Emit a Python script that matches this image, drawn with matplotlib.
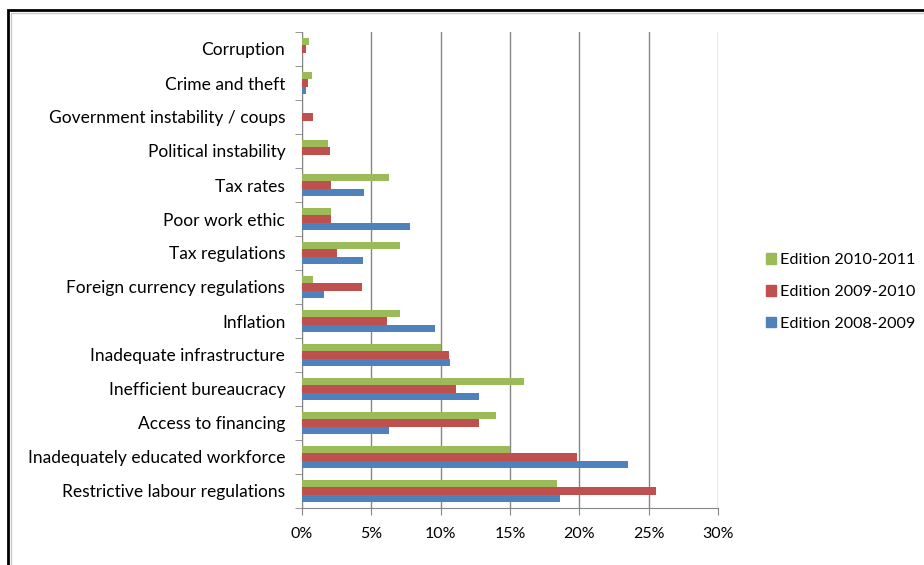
import matplotlib.pyplot as plt
import numpy as np
from matplotlib.patches import Patch, Rectangle

plt.rcParams['font.family'] = ['Lato', 'DejaVu Sans']

# categories from bottom to top
categories = ['Restrictive labour regulations', 'Inadequately educated workforce',
              'Access to financing', 'Inefficient bureaucracy',
              'Inadequate infrastructure', 'Inflation',
              'Foreign currency regulations', 'Tax regulations',
              'Poor work ethic', 'Tax rates', 'Political instability',
              'Government instability / coups', 'Crime and theft', 'Corruption']

ed_2010_2011 = [18.4, 15.0, 14.0, 16.0, 10.0, 7.1, 0.8, 7.1, 2.1, 6.3, 1.9, 0.0, 0.7, 0.5]
ed_2009_2010 = [25.5, 19.8, 12.8, 11.1, 10.6, 6.1, 4.3, 2.5, 2.1, 2.1, 2.0, 0.8, 0.4, 0.3]
ed_2008_2009 = [18.6, 23.5, 6.3, 12.8, 10.7, 9.6, 1.6, 4.4, 7.8, 4.5, 0.0, 0.0, 0.3, 0.0]

series_labels = ['Edition 2010-2011', 'Edition 2009-2010', 'Edition 2008-2009']
colors = ['#9BBB59', '#C0504D', '#4F81BD']

fig = plt.figure(figsize=(9.24, 5.65), dpi=100)
ax = fig.add_axes([302 / 924, 1 - 508 / 565, 416 / 924, 476 / 565])

y = np.arange(len(categories))
h = 0.215
ax.barh(y + h, ed_2010_2011, height=h, color=colors[0], zorder=3)
ax.barh(y, ed_2009_2010, height=h, color=colors[1], zorder=3)
ax.barh(y - h, ed_2008_2009, height=h, color=colors[2], zorder=3)

ax.set_xlim(0, 30)
ax.set_ylim(-0.5, len(categories) - 0.5)
ax.set_xticks(np.arange(0, 31, 5))
ax.set_xticklabels([f'{v}%' for v in range(0, 31, 5)], fontsize=11.5)
ax.set_yticks(y)
ax.set_yticklabels(categories, fontsize=12.5)
ax.set_yticks(np.arange(-0.5, len(categories), 1), minor=True)
ax.tick_params(axis='y', which='major', length=0, pad=12)
ax.tick_params(axis='y', which='minor', length=5, color='#868686', direction='out')
ax.tick_params(axis='x', length=5, color='#868686', pad=9)

ax.grid(axis='x', color='#868686', linewidth=1, zorder=0)
for s in ['top', 'right']:
    ax.spines[s].set_visible(False)
for s in ['left', 'bottom']:
    ax.spines[s].set_color('#868686')

handles = [Patch(color=c) for c in colors]
fig.legend(handles, series_labels, loc='center left', bbox_to_anchor=(751 / 924, 1 - 292 / 565),
           frameon=False, fontsize=11.6, handlelength=0.65, handleheight=0.65,
           handletextpad=0.25, labelspacing=1.1)

# screenshot frame
fig.patches.append(Rectangle((8 / 924, -0.1), 1.2, 1 - 10 / 565 + 0.1, transform=fig.transFigure,
                             fill=False, edgecolor='black', linewidth=2))
fig.patches.append(Rectangle((11 / 924, -0.1), 1.2, 1 - 13 / 565 + 0.1, transform=fig.transFigure,
                             fill=False, edgecolor='#c8c8c8', linewidth=1))

fig.savefig('out.png', dpi=100)
